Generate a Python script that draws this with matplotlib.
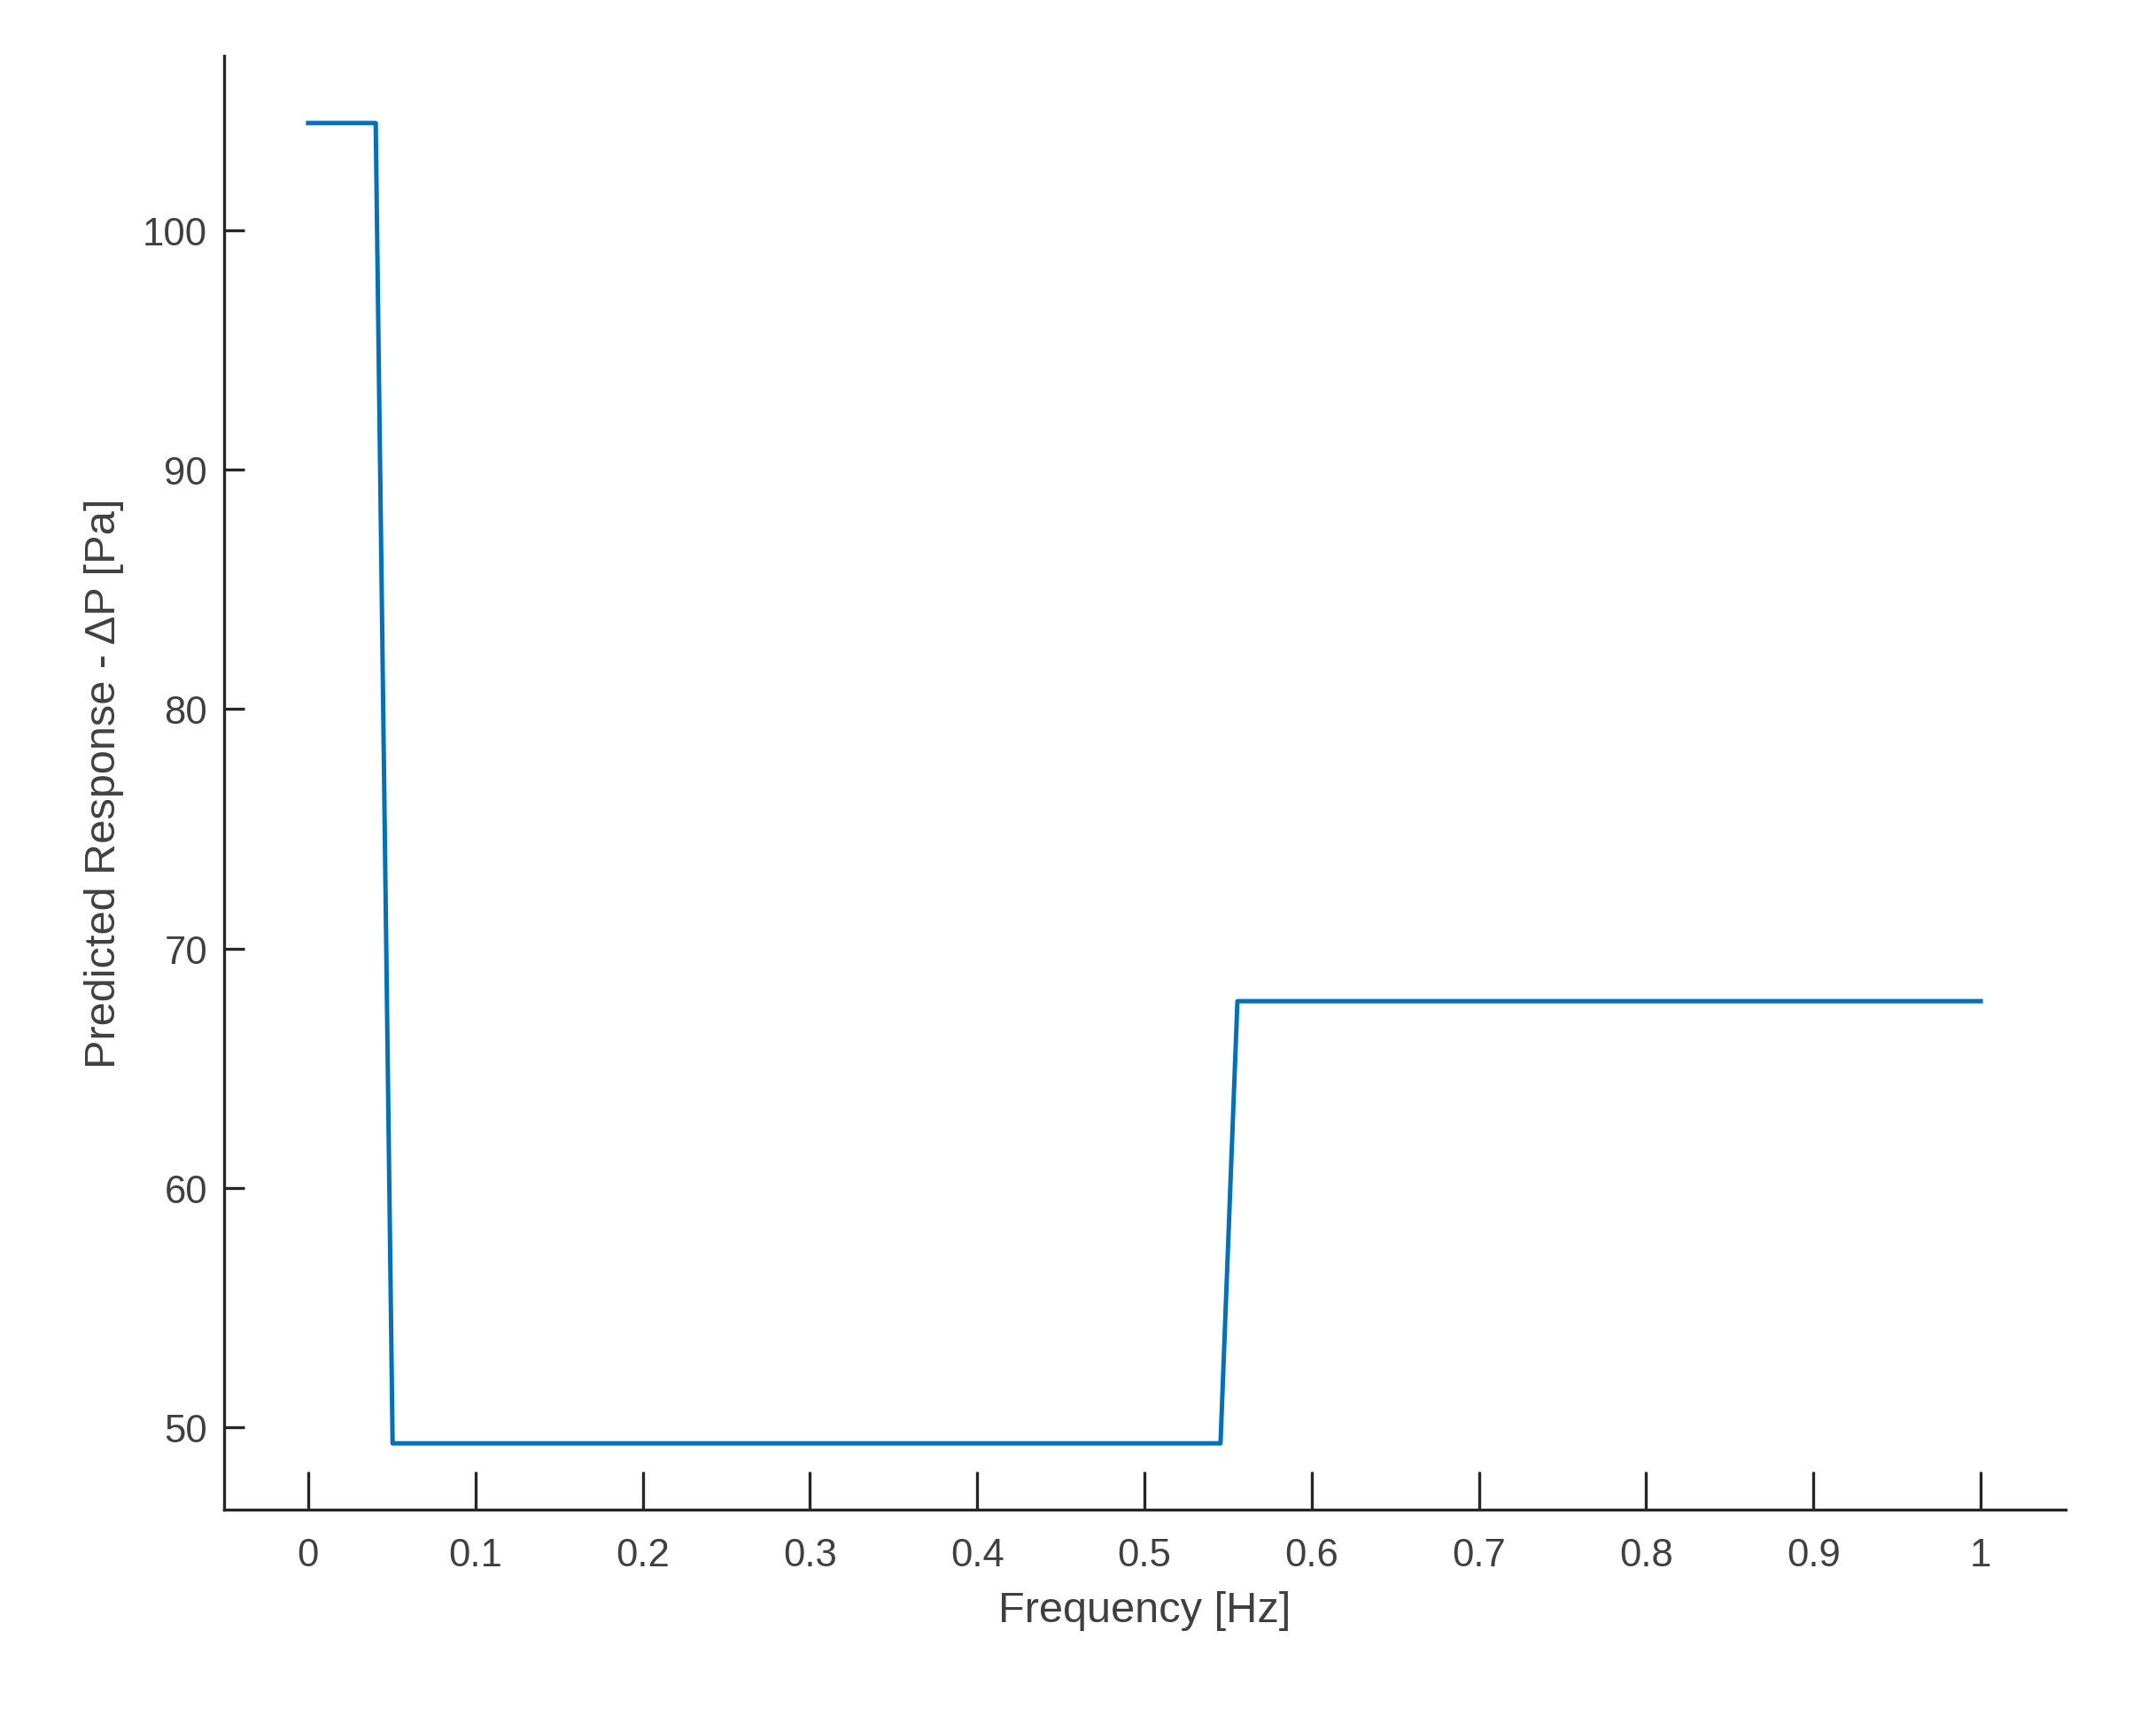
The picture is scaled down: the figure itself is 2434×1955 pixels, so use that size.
import matplotlib
matplotlib.use("Agg")
import matplotlib.pyplot as plt

freq = [0.0, 0.0404, 0.0505, 0.5455, 0.5556, 1.0]
resp = [104.48, 104.48, 49.33, 49.33, 67.8, 67.8]

xticks = [0, 0.1, 0.2, 0.3, 0.4, 0.5, 0.6, 0.7, 0.8, 0.9, 1]
xtick_labels = ["0", "0.1", "0.2", "0.3", "0.4", "0.5", "0.6", "0.7", "0.8", "0.9", "1"]
yticks = [50, 60, 70, 80, 90, 100]

plt.rcParams['font.family'] = ['Liberation Sans', 'DejaVu Sans']
AX = "#262626"
TXT = "#404040"

fig = plt.figure(figsize=(2434 / 300, 1956 / 300), dpi=300)
ax = fig.add_axes([0.1039, 0.1283, 0.9581 - 0.1039, 0.9673 - 0.1283])

ax.plot(freq, resp, '-', color="#0072BD", lw=1.2)

ax.set_xlim(-0.0503, 1.0508)
ax.set_ylim(46.56, 107.29)
ax.set_xticks(xticks)
ax.set_xticklabels(xtick_labels)
ax.set_yticks(yticks)

for s in ("top", "right"):
    ax.spines[s].set_visible(False)
for s in ("left", "bottom"):
    ax.spines[s].set_color(AX)
    ax.spines[s].set_linewidth(0.8)

ax.tick_params(axis="x", direction="in", length=10.3, width=0.8, color=AX,
               labelsize=10.5, labelcolor=TXT, pad=7.5)
ax.tick_params(axis="y", direction="in", length=5.5, width=0.8, color=AX,
               labelsize=10.5, labelcolor=TXT, pad=4.5)

ax.set_xlabel("Frequency [Hz]", fontsize=11.7, color=TXT, labelpad=4.5)
ax.set_ylabel("Predicted Response - ΔP [Pa]", fontsize=11.7, color=TXT, labelpad=5)

fig.savefig("out.png", dpi=300)
